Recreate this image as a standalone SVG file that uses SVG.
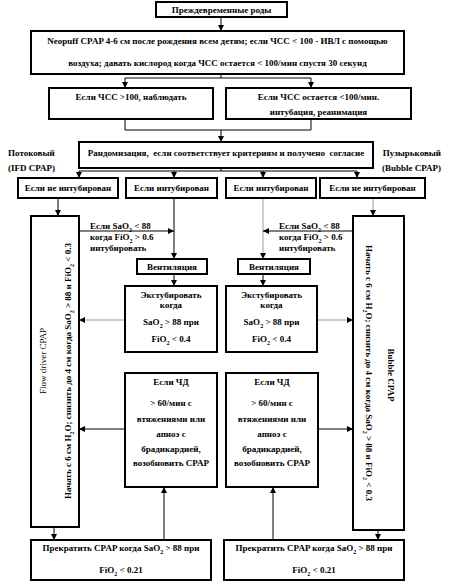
<svg xmlns="http://www.w3.org/2000/svg" width="450" height="584" viewBox="0 0 450 584">
<style>
text{font-family:"Liberation Serif","Times New Roman",serif;font-size:9px;font-weight:bold;fill:#000}
.c{text-anchor:middle}
.e{text-anchor:end}
.n{font-weight:normal}
.s{font-size:6px;baseline-shift:sub}
rect{fill:#fff;stroke:#000;stroke-width:2}
.l{stroke:#000;stroke-width:1;fill:none}
.g{stroke:#999;stroke-width:1;fill:none}
.a{marker-end:url(#ah)}
</style>
<defs>
<marker id="ah" viewBox="0 0 6 6" refX="6" refY="3" markerWidth="6" markerHeight="6" markerUnits="userSpaceOnUse" orient="auto">
<path d="M0,0 L6,3 L0,6 z" fill="#000"/>
</marker>
</defs>
<rect width="450" height="584" style="fill:#fff;stroke:none"/>
<g id="connectors">
<path class="l a" d="M221,17 V31"/>
<path class="l" d="M221,74 V78 M125,78 H311"/>
<path class="l a" d="M125,78 V88"/>
<path class="l a" d="M311,78 V88"/>
<path class="l" d="M125,119 V130 M311,119 V130 M125,130 H311"/>
<path class="l a" d="M221,130 V142"/>
<path class="l" d="M221,168 V171 M79,171 H357"/>
<path class="l a" d="M79,171 V178"/>
<path class="l a" d="M174,171 V178"/>
<path class="l a" d="M263,171 V178"/>
<path class="l a" d="M357,171 V178"/>
<path class="l a" d="M58,198 V216"/>
<path class="g a" d="M373,198 V216"/>
<path class="l a" d="M174,198 V259"/>
<path class="g a" d="M263,198 V259"/>
<path class="l a" d="M79,231 H174"/>
<path class="l a" d="M353,231 H263"/>
<path class="l a" d="M174,274 V286"/>
<path class="l a" d="M263,274 V286"/>
<path class="g a" d="M125,320 H79"/>
<path class="g a" d="M317,320 H353"/>
<path class="l a" d="M125,429 H79"/>
<path class="l a" d="M318,429 H353"/>
<path class="l a" d="M54,527 V540"/>
<path class="l a" d="M378,530 V540"/>
<path class="l a" d="M164,540 V487"/>
<path class="l a" d="M273,540 V487"/>
</g>
<g id="n_preterm"><rect x="156" y="2" width="131" height="15"/><text class="c" x="221.5" y="13">Преждевременные роды</text></g>
<g id="n_neopuff"><rect x="31" y="31" width="373" height="43"/>
<text class="c" x="217.5" y="44">Neopuff CPAP 4-6 см после рождения всем детям; если ЧСС &lt; 100 - ИВЛ с помощью</text>
<text class="c" x="217.5" y="66">воздуха; давать кислород когда ЧСС остается &lt; 100/мин спустя 30 секунд</text></g>
<g id="n_observe"><rect x="49" y="88" width="164" height="31"/><text class="c" x="131" y="100">Если ЧСС &gt;100, наблюдать</text></g>
<g id="n_intub"><rect x="226" y="88" width="185" height="31"/>
<text class="c" x="318.5" y="100">Если ЧСС остается &lt;100/мин.</text>
<text class="c" x="318.5" y="115">интубация, реанимация</text></g>
<g id="n_random"><rect x="79" y="142" width="294" height="26"/><text class="c" x="226" y="156" xml:space="preserve">Рандомизация,  если соответствует критериям и получено  согласие</text></g>
<g id="lbl_left"><text x="8" y="156">Потоковый</text><text x="8" y="171">(IFD CPAP)</text></g>
<g id="lbl_right"><text class="e" x="441" y="156">Пузырьковый</text><text class="e" x="441" y="171">(Bubble CPAP)</text></g>
<g id="n_r1"><rect x="18" y="178" width="100" height="20"/><text class="c" x="68" y="191">Если не интубирован</text></g>
<g id="n_r2"><rect x="126" y="178" width="91" height="20"/><text class="c" x="171.5" y="191">Если интубирован</text></g>
<g id="n_r3"><rect x="226" y="178" width="90" height="20"/><text class="c" x="271" y="191">Если интубирован</text></g>
<g id="n_r4"><rect x="320" y="178" width="105" height="20"/><text class="c" x="372.5" y="191">Если не интубирован</text></g>
<g id="n_flow"><rect x="31" y="216" width="48" height="311"/>
<text class="c n" transform="translate(46,361) rotate(-90)">Flow driver CPAP</text>
<text class="c" transform="translate(71,371) rotate(-90)">Начать с 6 см H<tspan class="s">2</tspan>O; снизить до 4 см когда SaO<tspan class="s">2</tspan> &gt; 88 и FiO<tspan class="s">2</tspan> &lt; 0.3</text></g>
<g id="n_bubble"><rect x="353" y="216" width="51" height="314"/>
<text class="c" transform="translate(366,373) rotate(90)">Начать с 6 см H<tspan class="s">2</tspan>O; снизить до 4 см когда SaO<tspan class="s">2</tspan> &gt; 88 и FiO<tspan class="s">2</tspan> &lt; 0.3</text>
<text class="c" transform="translate(388,375) rotate(90)">Bubble CPAP</text></g>
<g id="lbl_sao_l"><text x="90" y="229">Если SaO<tspan class="s">2</tspan> &lt; 88</text><text x="90" y="240">когда FiO<tspan class="s">2</tspan> &gt; 0.6</text><text x="90" y="251">интубировать</text></g>
<g id="lbl_sao_r"><text x="279" y="229">Если SaO<tspan class="s">2</tspan> &lt; 88</text><text x="279" y="240">когда FiO<tspan class="s">2</tspan> &gt; 0.6</text><text x="279" y="251">интубировать</text></g>
<g id="n_vent_l"><rect x="137" y="259" width="70" height="15"/><text class="c" x="172" y="270">Вентиляция</text></g>
<g id="n_vent_r"><rect x="238" y="259" width="72" height="15"/><text class="c" x="274" y="270">Вентиляция</text></g>
<g id="n_ext_l"><rect x="125" y="286" width="92" height="66"/>
<text class="c" x="171" y="298">Экстубировать</text><text class="c" x="171" y="308">когда</text>
<text class="c" x="171" y="325">SaO<tspan class="s">2</tspan> &gt; 88 при</text><text class="c" x="171" y="342">FiO<tspan class="s">2</tspan> &lt; 0.4</text></g>
<g id="n_ext_r"><rect x="226" y="286" width="91" height="66"/>
<text class="c" x="271.5" y="298">Экстубировать</text><text class="c" x="271.5" y="308">когда</text>
<text class="c" x="271.5" y="325">SaO<tspan class="s">2</tspan> &gt; 88 при</text><text class="c" x="271.5" y="342">FiO<tspan class="s">2</tspan> &lt; 0.4</text></g>
<g id="n_rr_l"><rect x="125" y="373" width="92" height="114"/>
<text class="c" x="171" y="385">Если ЧД</text><text class="c" x="171" y="406">&gt; 60/мин с</text><text class="c" x="171" y="422">втяжениями или</text>
<text class="c" x="171" y="437">апноэ с</text><text class="c" x="171" y="452">брадикардией,</text><text class="c" x="171" y="466">возобновить CPAP</text></g>
<g id="n_rr_r"><rect x="226" y="373" width="92" height="114"/>
<text class="c" x="272" y="385">Если ЧД</text><text class="c" x="272" y="406">&gt; 60/мин с</text><text class="c" x="272" y="422">втяжениями или</text>
<text class="c" x="272" y="437">апноэ с</text><text class="c" x="272" y="452">брадикардией,</text><text class="c" x="272" y="466">возобновить CPAP</text></g>
<g id="n_stop_l"><rect x="31" y="540" width="180" height="40"/>
<text class="c" x="121" y="551">Прекратить CPAP когда SaO<tspan class="s">2</tspan> &gt; 88 при</text><text class="c" x="121" y="573">FiO<tspan class="s">2</tspan> &lt; 0.21</text></g>
<g id="n_stop_r"><rect x="224" y="540" width="180" height="40"/>
<text class="c" x="314" y="551">Прекратить CPAP когда SaO<tspan class="s">2</tspan> &gt; 88 при</text><text class="c" x="314" y="573">FiO<tspan class="s">2</tspan> &lt; 0.21</text></g>
</svg>
